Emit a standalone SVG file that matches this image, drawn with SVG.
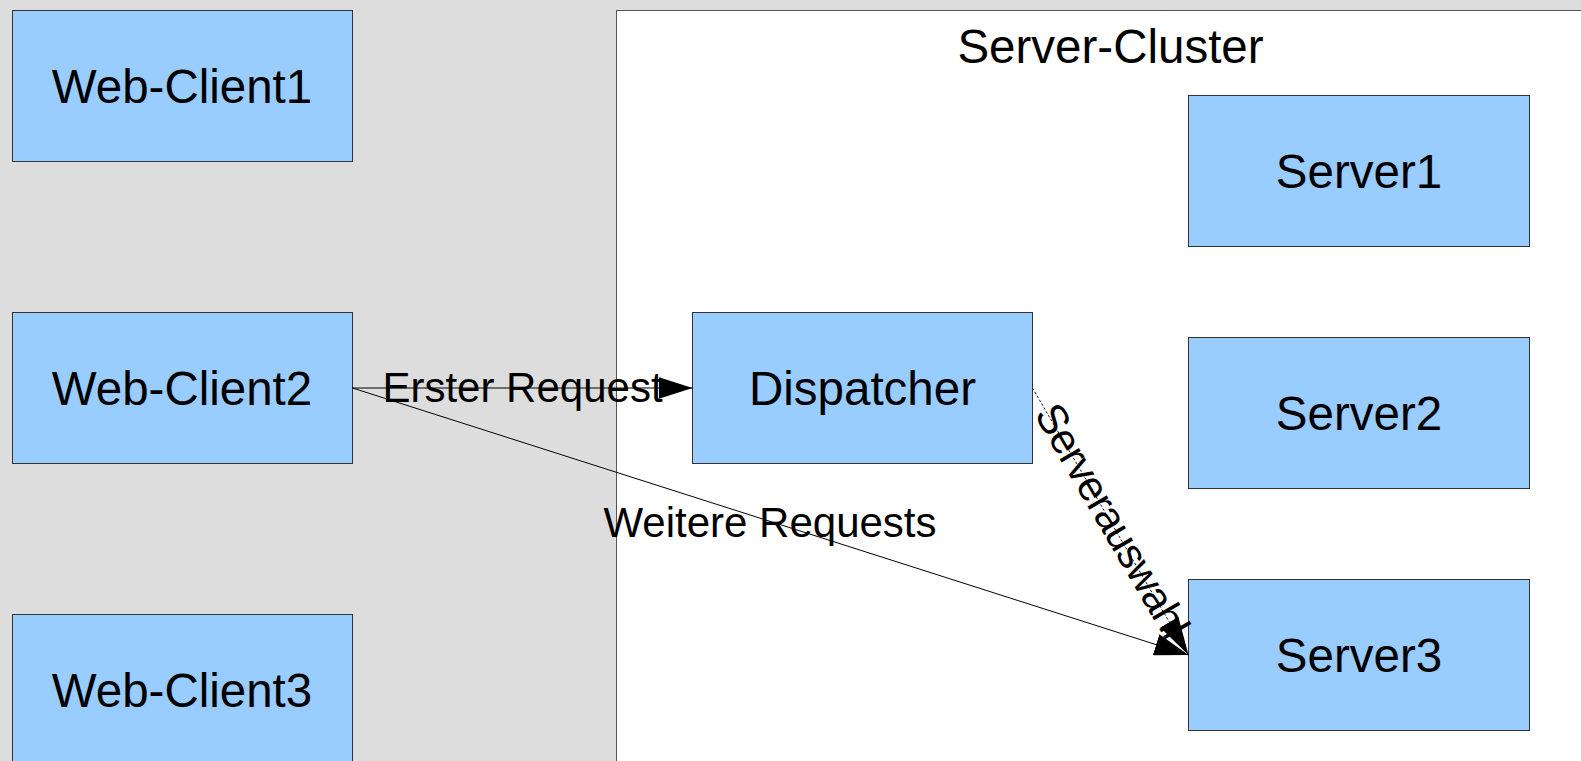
<svg xmlns="http://www.w3.org/2000/svg" width="1581" height="761" viewBox="0 0 1581 761">
  <style>
    .node rect { fill: #99ccff; stroke: #333333; stroke-width: 1; }
    .node text { font-family: "Liberation Sans", Arial, sans-serif; font-size: 47.5px; fill: #000000; text-anchor: middle; }
    .edge { fill: none; stroke: #000000; stroke-width: 1; }
    .dashed { stroke-dasharray: 2.5 2; stroke-width: 0.9; }
    .label { font-family: "Liberation Sans", Arial, sans-serif; font-size: 42px; fill: #000000; text-anchor: middle; }
  </style>
  <defs>
    <marker id="arrow" markerUnits="userSpaceOnUse" viewBox="0 0 34 22" markerWidth="34" markerHeight="22" refX="34" refY="11" orient="auto">
      <path d="M0,0 L34,11 L0,22 z" fill="#000000"/>
    </marker>
    <marker id="arrow-long" markerUnits="userSpaceOnUse" viewBox="0 0 38 21" markerWidth="38" markerHeight="21" refX="38" refY="10.5" orient="auto">
      <path d="M0,0 L38,10.5 L0,21 z" fill="#000000"/>
    </marker>
  </defs>

  <!-- page background -->
  <rect x="0" y="0" width="1581" height="761" fill="#dddddd"/>

  <!-- cluster frame -->
  <g id="server-cluster">
    <rect x="616.5" y="10.5" width="1000" height="800" fill="#ffffff" stroke="#555555" stroke-width="1"/>
    <text x="1110.5" y="62.5" font-family="Liberation Sans, Arial, sans-serif" font-size="47.5" text-anchor="middle">Server-Cluster</text>
  </g>

  <!-- clients -->
  <g id="web-client1" class="node">
    <rect x="12.5" y="10.5" width="340" height="151"/>
    <text x="182" y="103">Web-Client1</text>
  </g>
  <g id="web-client2" class="node">
    <rect x="12.5" y="312.5" width="340" height="151"/>
    <text x="182" y="405">Web-Client2</text>
  </g>
  <g id="web-client3" class="node">
    <rect x="12.5" y="614.5" width="340" height="151"/>
    <text x="182" y="707">Web-Client3</text>
  </g>

  <!-- dispatcher -->
  <g id="dispatcher" class="node">
    <rect x="692.5" y="312.5" width="340" height="151"/>
    <text x="862.5" y="405">Dispatcher</text>
  </g>

  <!-- servers -->
  <g id="server1" class="node">
    <rect x="1188.5" y="95.5" width="341" height="151"/>
    <text x="1359" y="188">Server1</text>
  </g>
  <g id="server2" class="node">
    <rect x="1188.5" y="337.5" width="341" height="151"/>
    <text x="1359" y="430">Server2</text>
  </g>
  <g id="server3" class="node">
    <rect x="1188.5" y="579.5" width="341" height="151"/>
    <text x="1359" y="672">Server3</text>
  </g>

  <!-- connectors -->
  <g id="connectors">
    <line class="edge" x1="352.5" y1="388" x2="692.5" y2="388" marker-end="url(#arrow)"/>
    <text class="label" x="522.5" y="402">Erster Request</text>

    <line class="edge" x1="352.5" y1="388" x2="1188.5" y2="655" marker-end="url(#arrow)"/>
    <text class="label" x="770" y="537">Weitere Requests</text>

    <line class="edge dashed" x1="1032.5" y1="388" x2="1188.5" y2="655" marker-end="url(#arrow-long)"/>
    <text class="label" x="1111" y="534" font-size="38" letter-spacing="-1.2" transform="rotate(59.7 1111 521)">Serverauswahl</text>
  </g>
</svg>
